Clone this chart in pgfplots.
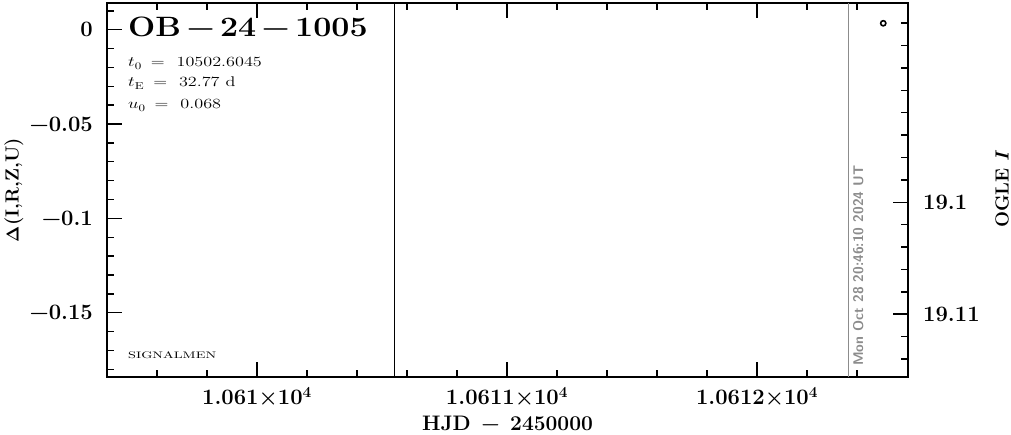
\documentclass[border=0pt]{standalone}
\usepackage{pgfplots}
\pgfplotsset{compat=1.18}
\usepackage{graphicx}
\definecolor{dategray}{RGB}{140,140,140}
\begin{document}
\begin{tikzpicture}
\path[use as bounding box] (-107pt,-57pt) rectangle (904pt,377pt);
\begin{axis}[
  at={(0pt,0pt)}, anchor=south west,
  width=801pt, height=374pt, scale only axis,
  xmin=10609.4, xmax=10612.604,
  ymin=-0.1841, ymax=0.01415,
  scaled x ticks=false, scaled y ticks=false,
  axis line style={line width=1.6pt},
  tick align=inside,
  major tick length=15pt, minor tick length=7pt,
  major tick style={line width=1.6pt, black},
  minor tick style={line width=1.4pt, black},
  xtick pos=both, ytick pos=left,
  xtick={10610,10611,10612},
  xticklabels={1.061\texttimes10\textsuperscript{4},1.0611\texttimes10\textsuperscript{4},1.0612\texttimes10\textsuperscript{4}},
  minor xtick={10609.6,10609.8,10610.2,10610.4,10610.6,10610.8,10611.2,10611.4,10611.6,10611.8,10612.2,10612.4},
  ytick={-0.15,-0.1,-0.05,0},
  yticklabels={\textminus0.15,\textminus0.1,\textminus0.05,0},
  minor ytick={-0.18,-0.17,-0.16,-0.14,-0.13,-0.12,-0.11,-0.09,-0.08,-0.07,-0.06,-0.04,-0.03,-0.02,-0.01,0.01},
  xticklabel style={font=\fontsize{22}{26}\selectfont\bfseries, inner sep=0pt, yshift=-10pt},
  yticklabel style={font=\fontsize{22}{26}\selectfont\bfseries, inner sep=0pt, xshift=-14pt},
  xlabel={HJD\enspace\textminus\enspace2450000},
  xlabel style={font=\fontsize{21}{24}\selectfont\bfseries, at={(axis description cs:0.5,-0.123)}, anchor=center},
  ylabel={$\mathbf{\Delta}$(I,R,Z,U)},
  ylabel style={font=\fontsize{19}{22}\selectfont\bfseries, at={(axis description cs:-0.1161,0.5)}, anchor=center},
]
\addplot[black, line width=1.8pt] coordinates {(10610.55,-0.1841) (10610.55,0.01415)};
\addplot[dategray, line width=0.9pt] coordinates {(10612.365,-0.1841) (10612.365,0.01415)};
\addplot[only marks, mark=o, mark size=2.6pt, mark options={line width=1.6pt, black}] coordinates {(10612.505,0.0034)};
\end{axis}
\begin{axis}[
  at={(0pt,0pt)}, anchor=south west,
  width=801pt, height=374pt, scale only axis,
  xmin=10609.4, xmax=10612.604,
  ymin=19.0822, ymax=19.1156, y dir=reverse,
  scaled y ticks=false,
  hide x axis,
  axis y line*=right,
  axis line style={line width=1.6pt},
  tick align=inside,
  major tick length=15pt, minor tick length=7pt,
  major tick style={line width=1.6pt, black},
  minor tick style={line width=1.4pt, black},
  ytick={19.1,19.11},
  yticklabels={19.1,19.11},
  minor ytick={19.084,19.086,19.088,19.09,19.092,19.094,19.096,19.098,19.102,19.104,19.106,19.108,19.112,19.114},
  yticklabel style={font=\fontsize{22}{26}\selectfont\bfseries, inner sep=0pt, xshift=15pt},
  ylabel={OGLE \textit{I}},
  ylabel style={font=\fontsize{19}{22}\selectfont\bfseries, at={(axis description cs:1.1174,0.503)}, anchor=center},
]
\addplot[draw=none] coordinates {(10610,19.1)};
\end{axis}
\node[anchor=base west, inner sep=0pt, font=\fontsize{28}{30}\selectfont\bfseries] at (21pt,340pt) {\scalebox{1.15}[1]{OB\,\textminus\,24\,\textminus\,1005}};
\node[anchor=base west, inner sep=0pt, font=\fontsize{14}{16}\selectfont] at (21pt,310pt) {\scalebox{1.3}[1]{$t_{0}$\ \,=\ \ 10502.6045}};
\node[anchor=base west, inner sep=0pt, font=\fontsize{14}{16}\selectfont] at (21pt,290pt) {\scalebox{1.3}[1]{$t_{\mathrm{E}}$\ \,=\ \ 32.77 d}};
\node[anchor=base west, inner sep=0pt, font=\fontsize{14}{16}\selectfont] at (21pt,268pt) {\scalebox{1.3}[1]{$u_{0}$\ \,=\ \ 0.068}};
\node[anchor=base west, inner sep=0pt, font=\fontsize{9.5}{11}\selectfont] at (21pt,19pt) {\scalebox{1.5}[1]{SIGNALMEN}};
\node[rotate=90, anchor=base west, inner sep=0pt, text=dategray, font=\fontsize{14}{16}\selectfont\sffamily\bfseries] at (756pt,11pt) {Mon Oct 28 20:46:10 2024 UT};
\end{tikzpicture}
\end{document}
